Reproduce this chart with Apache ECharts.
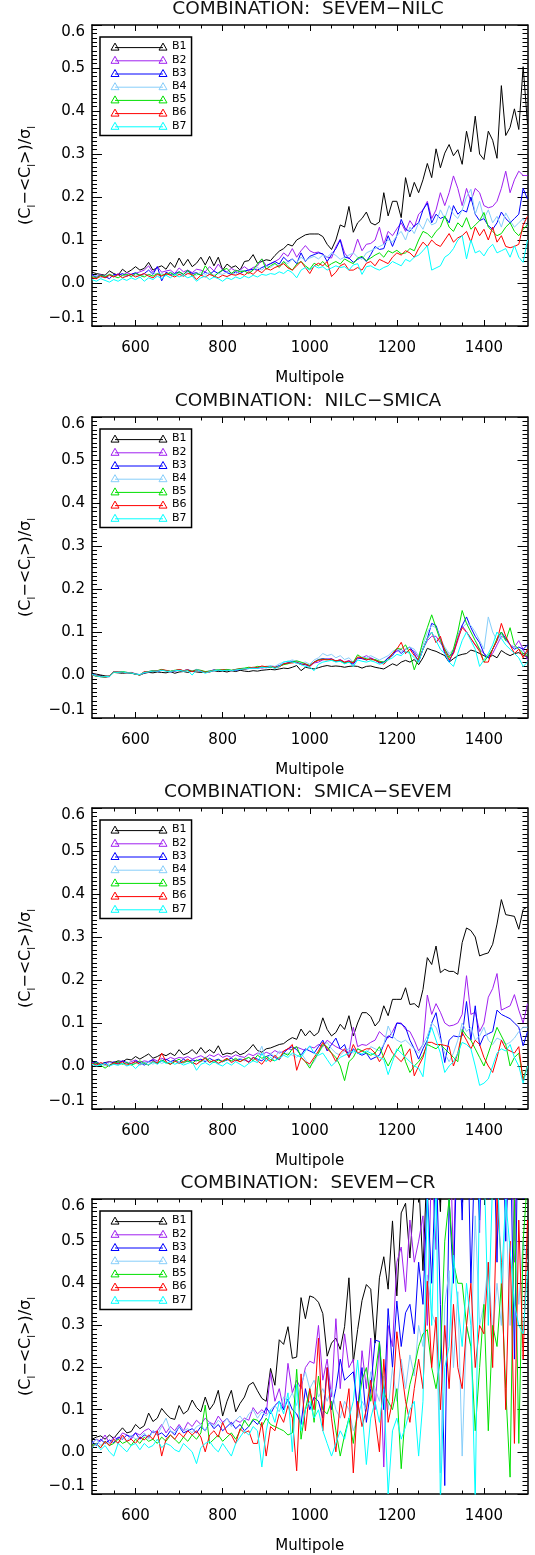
<!DOCTYPE html>
<html>
<head>
<meta charset="utf-8">
<title>Band residuals by component-separation combination</title>
<script src="https://cdn.jsdelivr.net/npm/echarts@6/dist/echarts.min.js"></script>
<style>
  html, body { margin: 0; padding: 0; background: #fff; }
  #chart { width: 535px; height: 1555px; }
</style>
</head>
<body>
<div id="chart"></div>
<script>
// multipole bins (x)
const ells = [
  500, 510, 520, 530, 540, 550, 560, 570, 580, 590,
  600, 610, 620, 630, 640, 650, 660, 670, 680, 690,
  700, 710, 720, 730, 740, 750, 760, 770, 780, 790,
  800, 810, 820, 830, 840, 850, 860, 870, 880, 890,
  900, 910, 920, 930, 940, 950, 960, 970, 980, 990,
  1000, 1010, 1020, 1030, 1040, 1050, 1060, 1070, 1080, 1090,
  1100, 1110, 1120, 1130, 1140, 1150, 1160, 1170, 1180, 1190,
  1200, 1210, 1220, 1230, 1240, 1250, 1260, 1270, 1280, 1290,
  1300, 1310, 1320, 1330, 1340, 1350, 1360, 1370, 1380, 1390,
  1400, 1410, 1420, 1430, 1440, 1450, 1460, 1470, 1480, 1490,
  1500
];
const xMajor = [600, 800, 1000, 1200, 1400];
const xMinor = [550, 650, 700, 750, 850, 900, 950, 1050, 1100, 1150, 1250, 1300, 1350, 1450];
const bandNames = ['B1', 'B2', 'B3', 'B4', 'B5', 'B6', 'B7'];
const bandColors = ['#000000', '#a020f0', '#0000ff', '#87cefa', '#00e000', '#ff0000', '#00ffff'];
const titles = ['COMBINATION:  SEVEM\u2212NILC', 'COMBINATION:  NILC\u2212SMICA', 'COMBINATION:  SMICA\u2212SEVEM', 'COMBINATION:  SEVEM\u2212CR'];

// ---- SEVEM-NILC ----
const sevemNilcB1 = [
  .025, .022, .02, .018, .028, .022, .018, .032, .024, .03,
  .038, .03, .034, .048, .03, .036, .04, .032, .048, .036,
  .058, .04, .055, .038, .046, .06, .042, .062, .04, .06,
  .03, .044, .036, .04, .03, .05, .052, .066, .046, .05,
  .054, .052, .064, .074, .08, .09, .086, .1, .106, .112,
  .114, .114, .114, .108, .09, .078, .1, .135, .13, .178,
  .118, .14, .15, .165, .14, .135, .142, .21, .156, .19,
  .19, .152, .245, .2, .234, .21, .24, .278, .245, .312,
  .268, .302, .322, .296, .31, .276, .353, .305, .388, .3,
  .287, .353, .332, .29, .459, .343, .362, .405, .357, .503,
  .37
];
const sevemNilcB2 = [
  .018, .015, .02, .012, .02, .016, .022, .018, .024, .02,
  .022, .026, .03, .04, .024, .038, .025, .028, .03, .022,
  .035, .026, .03, .024, .032, .03, .026, .038, .028, .044,
  .03, .026, .034, .028, .03, .038, .03, .036, .04, .056,
  .04, .045, .05, .056, .07, .062, .08, .06, .075, .087,
  .075, .07, .072, .066, .06, .058, .084, .102, .07, .056,
  .07, .102, .075, .09, .092, .1, .13, .09, .12, .11,
  .126, .14, .12, .145, .13, .16, .17, .19, .15, .17,
  .21, .18, .21, .249, .22, .18, .22, .19, .22, .21,
  .18, .175, .178, .19, .22, .26, .21, .24, .26, .25,
  .25
];
const sevemNilcB3 = [
  .02, .012, .018, .015, .01, .02, .018, .022, .016, .02,
  .024, .018, .022, .03, .02, .038, .005, .025, .02, .022,
  .026, .02, .028, .022, .024, .018, .025, .02, .028, .022,
  .03, .024, .02, .026, .022, .028, .03, .032, .03, .036,
  .04, .045, .05, .044, .06, .05, .056, .045, .07, .05,
  .062, .066, .07, .068, .05, .066, .08, .1, .06, .058,
  .048, .055, .06, .05, .066, .085, .078, .08, .11, .085,
  .11, .148, .125, .12, .133, .14, .17, .186, .14, .16,
  .15, .155, .14, .18, .16, .17, .165, .2, .16, .145,
  .15, .133, .125, .14, .165, .15, .14, .15, .16, .22,
  .195
];
const sevemNilcB4 = [
  .015, .018, .012, .016, .02, .014, .018, .012, .02, .016,
  .018, .012, .02, .018, .024, .02, .022, .018, .026, .02,
  .022, .016, .024, .02, .018, .026, .02, .024, .018, .022,
  .02, .026, .024, .02, .03, .028, .024, .03, .036, .03,
  .04, .036, .044, .04, .05, .045, .056, .048, .06, .052,
  .058, .062, .056, .065, .06, .07, .064, .055, .06, .065,
  .07, .06, .055, .07, .075, .08, .085, .09, .1, .095,
  .11, .12, .1, .13, .115, .14, .125, .15, .135, .14,
  .17, .15, .18, .16, .15, .17, .2, .218, .16, .19,
  .15, .17, .14, .155, .13, .163, .145, .13, .14, .15,
  .13
];
const sevemNilcB5 = [
  .015, .012, .018, .014, .02, .016, .012, .018, .02, .015,
  .022, .018, .014, .02, .016, .022, .018, .02, .024, .018,
  .026, .02, .03, .016, .022, .018, .04, .026, .014, .024,
  .03, .034, .022, .03, .026, .028, .022, .03, .045, .056,
  .032, .04, .046, .036, .05, .038, .03, .044, .05, .04,
  .032, .046, .04, .05, .038, .045, .05, .044, .056, .05,
  .045, .058, .062, .052, .058, .065, .07, .06, .075, .07,
  .076, .068, .07, .08, .075, .1, .12, .115, .105, .12,
  .13, .156, .13, .12, .14, .13, .152, .125, .135, .145,
  .164, .13, .12, .11, .115, .13, .14, .12, .11, .125,
  .135
];
const sevemNilcB6 = [
  .012, .01, .016, .012, .018, .014, .02, .012, .016, .02,
  .014, .018, .022, .016, .012, .02, .016, .022, .018, .014,
  .02, .016, .022, .02, .008, .018, .014, .02, .016, .012,
  .018, .015, .02, .018, .022, .018, .026, .02, .03, .024,
  .034, .03, .036, .04, .045, .035, .03, .04, .05, .036,
  .022, .04, .046, .04, .05, .015, .025, .04, .045, .03,
  .03, .036, .03, .046, .05, .04, .055, .05, .045, .06,
  .07, .065, .075, .07, .06, .08, .095, .085, .1, .09,
  .085, .1, .115, .095, .105, .11, .12, .095, .13, .11,
  .125, .1, .13, .095, .11, .085, .082, .085, .09, .135,
  .155
];
const sevemNilcB7 = [
  .008, .004, .01, .006, .002, .008, .004, .01, .006, .012,
  .008, .014, .004, .012, .008, .016, .01, .018, .012, .02,
  .014, .018, .012, .016, .004, .012, .016, .008, .014, .01,
  .004, .012, .008, .014, .01, .016, .012, .018, .014, .02,
  .018, .022, .02, .026, .022, .03, .024, .012, .03, .036,
  .03, .04, .035, .038, .03, .035, .04, .036, .038, .03,
  .042, .045, .02, .038, .04, .034, .03, .036, .04, .05,
  .045, .04, .055, .05, .06, .065, .075, .087, .03, .035,
  .04, .06, .067, .08, .1, .11, .056, .1, .07, .075,
  .063, .08, .09, .07, .075, .08, .06, .087, .06, .048,
  .1
];

// ---- NILC-SMICA ----
const nilcSmicaB1 = [
  .004, .002, 0, -.002, -.003, .006, .005, .004, .005, .004,
  .002, 0, .004, .006, .005, .007, .006, .005, .008, .004,
  .007, .008, .006, .009, .007, .006, .008, .007, .01, .008,
  .009, .007, .01, .008, .011, .009, .008, .01, .009, .011,
  .012, .013, .012, .014, .016, .015, .018, .022, .01, .018,
  .016, .014, .017, .02, .022, .02, .021, .02, .018, .02,
  .021, .02, .016, .02, .021, .018, .016, .014, .02, .026,
  .022, .03, .034, .03, .036, .024, .04, .062, .058, .055,
  .05, .045, .03, .038, .045, .048, .05, .058, .055, .05,
  .045, .04, .046, .04, .057, .05, .045, .05, .052, .046,
  .042
];
const nilcSmicaB2 = [
  0, -.002, -.004, -.005, -.004, .008, .006, .007, .005, .006,
  .003, 0, .006, .008, .01, .008, .012, .01, .008, .01,
  .012, .01, .012, .008, .013, .01, .006, .008, .01, .011,
  .01, .012, .01, .012, .013, .014, .016, .015, .018, .016,
  .018, .02, .016, .02, .025, .028, .03, .028, .025, .024,
  .02, .028, .03, .035, .038, .035, .032, .036, .03, .034,
  .028, .038, .04, .045, .04, .035, .03, .03, .04, .05,
  .055, .06, .05, .06, .055, .04, .06, .08, .09, .09,
  .075, .06, .045, .05, .08, .115, .1, .085, .07, .06,
  .05, .04, .05, .07, .09, .085, .07, .065, .08, .06,
  .035
];
const nilcSmicaB3 = [
  .002, -.001, -.003, -.004, -.003, .007, .007, .006, .006, .005,
  .002, .001, .005, .007, .009, .008, .011, .01, .007, .009,
  .011, .01, .012, .009, .011, .009, .007, .009, .012, .01,
  .011, .012, .01, .011, .013, .014, .015, .017, .016, .018,
  .017, .019, .018, .022, .026, .028, .032, .03, .026, .024,
  .022, .03, .036, .038, .036, .038, .032, .034, .028, .03,
  .025, .04, .038, .035, .038, .035, .028, .03, .04, .045,
  .06, .05, .06, .065, .05, .03, .06, .085, .12, .115,
  .085, .05, .03, .055, .09, .115, .135, .11, .09, .075,
  .05, .04, .06, .08, .1, .085, .07, .06, .065, .06,
  .07
];
const nilcSmicaB4 = [
  .001, -.002, -.003, -.005, -.004, .006, .008, .007, .006, .005,
  .003, 0, .006, .008, .01, .009, .012, .01, .008, .01,
  .011, .009, .012, .01, .012, .01, .007, .009, .01, .012,
  .011, .013, .011, .012, .014, .015, .017, .016, .019, .018,
  .02, .022, .02, .026, .03, .032, .035, .032, .028, .03,
  .025, .035, .04, .05, .045, .048, .04, .045, .036, .04,
  .03, .04, .042, .04, .045, .04, .035, .04, .045, .055,
  .06, .055, .06, .065, .06, .045, .07, .1, .115, .11,
  .085, .065, .05, .06, .09, .11, .12, .115, .1, .08,
  .06, .135, .1, .08, .095, .08, .07, .065, .06, .055,
  .05
];
const nilcSmicaB5 = [
  0, -.003, -.004, -.005, -.003, .007, .006, .008, .006, .005,
  .002, 0, .007, .008, .01, .01, .013, .01, .009, .011,
  .012, .01, .011, .009, .012, .011, .008, .009, .011, .012,
  .012, .013, .011, .013, .015, .016, .018, .017, .02, .019,
  .02, .018, .017, .02, .024, .026, .03, .033, .03, .026,
  .022, .03, .035, .037, .036, .035, .033, .032, .028, .03,
  .03, .047, .04, .038, .035, .036, .032, .03, .035, .05,
  .062, .06, .07, .05, .012, .04, .08, .11, .14, .11,
  .08, .06, .04, .06, .1, .15, .12, .1, .08, .06,
  .03, .045, .06, .085, .1, .08, .11, .07, .06, .05,
  .045
];
const nilcSmicaB6 = [
  0, -.002, -.003, -.005, -.002, .008, .007, .006, .005, .006,
  .002, 0, .008, .007, .009, .01, .012, .011, .008, .01,
  .013, .01, .012, .008, .011, .01, .006, .008, .011, .01,
  .012, .011, .01, .013, .014, .013, .016, .018, .017, .021,
  .019, .02, .018, .019, .026, .028, .028, .03, .024, .026,
  .02, .03, .034, .036, .035, .037, .033, .035, .03, .032,
  .028, .042, .04, .035, .038, .034, .03, .025, .035, .05,
  .06, .076, .05, .06, .045, .035, .06, .085, .1, .075,
  .09, .055, .035, .05, .085, .11, .1, .085, .07, .055,
  .03, .03, .06, .08, .12, .09, .07, .05, .06, .04,
  .06
];
const nilcSmicaB7 = [
  .001, -.002, -.004, -.004, -.003, .007, .006, .007, .005, .005,
  .002, .001, .006, .007, .009, .009, .011, .009, .008, .01,
  .011, .009, .01, 0, .012, .009, .004, .008, .01, .011,
  .01, .011, .01, .012, .013, .014, .015, .016, .015, .018,
  .017, .02, .015, .02, .03, .032, .03, .028, .024, .02,
  .018, .01, .025, .03, .032, .034, .03, .032, .026, .03,
  .02, .035, .032, .03, .033, .03, .025, .028, .035, .04,
  .048, .045, .055, .05, .04, .03, .06, .085, .1, .08,
  .06, .05, .03, .02, .05, .08, .1, .08, .06, .02,
  .035, .05, .07, .1, .085, .07, .06, .05, .04, .02,
  .03
];

// ---- SMICA-SEVEM ----
const smicaSevemB1 = [
  .012, .006, .004, .008, .01, .008, .012, .01, .016, .014,
  .022, .016, .022, .028, .018, .022, .028, .024, .03, .024,
  .038, .026, .03, .038, .028, .043, .03, .038, .03, .047,
  .026, .03, .028, .034, .026, .03, .038, .05, .036, .032,
  .04, .042, .046, .05, .052, .06, .066, .062, .086, .07,
  .082, .07, .078, .112, .085, .07, .078, .097, .085, .117,
  .07, .1, .124, .124, .115, .093, .105, .14, .117, .155,
  .155, .155, .182, .143, .145, .136, .178, .252, .236, .279,
  .217, .225, .22, .22, .213, .287, .321, .315, .3, .256,
  .26, .263, .283, .33, .387, .352, .35, .348, .318, .364,
  .37
];
const smicaSevemB2 = [
  .008, .004, .002, .006, .01, .004, .008, .012, .006, .01,
  .014, .008, .012, .01, .016, .012, .018, .014, .02, .016,
  .02, .018, .022, .016, .02, .024, .018, .026, .022, .028,
  .02, .024, .02, .026, .022, .02, .028, .024, .03, .026,
  .032, .028, .036, .03, .034, .04, .038, .044, .04, .036,
  .045, .042, .05, .045, .06, .052, .045, .04, .035, .03,
  .09, .045, .05, .048, .055, .06, .08, .07, .065, .08,
  .1, .1, .085, .08, .06, .035, .05, .165, .12, .145,
  .125, .1, .093, .095, .1, .12, .21, .12, .125, .08,
  .1, .16, .18, .215, .13, .135, .14, .166, .13, .1,
  .145
];
const smicaSevemB3 = [
  .006, .01, .004, .008, 0, .01, .006, .012, .008, .004,
  .012, .008, .002, .01, .014, .006, .012, .016, .01, .014,
  .008, .016, .01, .014, .012, .016, .01, .018, .012, .016,
  .01, .014, .018, .012, .016, .014, .01, .02, .016, .012,
  .022, .026, .02, .015, .03, .04, .045, .038, .025, .04,
  .035, .03, .045, .06, .035, .05, .065, .04, .05, .02,
  .04, .03, .025, .03, .015, .02, .025, .05, .07, .065,
  .1, .098, .09, .06, .04, .016, .04, .06, .1, .124,
  .07, .008, .06, .07, .068, .07, .15, .06, .14, .047,
  .07, .075, .08, .13, .12, .115, .11, .1, .09, .047,
  .08
];
const smicaSevemB4 = [
  .004, .002, .006, 0, .008, .004, .002, .006, .01, .004,
  .008, .002, .006, .01, .004, .012, .006, .01, .004, .012,
  .008, .006, .012, .008, .004, .01, .014, .008, .012, .006,
  .01, .016, .01, .014, .018, .012, .02, .014, .024, .046,
  .01, .03, .02, .035, .028, .03, .025, .02, .03, .015,
  0, .01, .03, .045, .055, .04, .03, .025, .035, .04,
  .03, .04, .035, .03, .045, .04, .035, .05, .093, .07,
  .06, .055, .06, .05, .04, .03, .05, .07, .1, .09,
  .06, .03, .01, .03, .06, .1, .08, .09, .06, .07,
  .09, .06, .05, .065, .06, .05, .055, .065, .08, .09,
  .09
];
const smicaSevemB5 = [
  .004, .008, .002, -.005, .002, .006, .01, .004, .008, .002,
  .006, .012, .006, .002, .01, .006, .014, .008, .004, .01,
  .016, .008, .012, .006, .014, .01, .02, .012, .008, .014,
  .01, .016, .012, .018, .01, .016, .02, .012, .025, .018,
  .022, .015, .012, .02, .03, .025, .04, .045, .02, .01,
  -.005, .015, .03, .05, .045, .03, .02, 0, -.034, .01,
  .02, .04, .035, .03, .025, .03, .045, .02, 0, .02,
  .035, .05, .01, -.015, 0, .01, .025, .05, .045, .04,
  .05, .04, .03, .02, .01, .085, .07, .06, .04, .02,
  0, .03, .06, .09, .07, .05, 0, .02, .03, -.03,
  0
];
const smicaSevemB6 = [
  .006, .002, .008, .004, 0, .008, .004, .01, .002, .006,
  .01, .004, .008, .002, .012, .006, .03, .01, .004, .012,
  .006, .01, .016, .008, .004, .012, .018, .008, .014, .006,
  .012, .018, .008, .014, .01, .016, .008, .02, .012, .004,
  .018, .01, .025, .015, .035, .04, .05, -.01, .02, .01,
  .005, .02, .035, .055, .04, .03, .01, .03, .04, .02,
  .05, .03, .035, .04, .04, .03, .01, .025, .05, .03,
  .02, .01, .025, .04, -.023, 0, .02, .055, .055, .05,
  .05, .048, .045, 0, .03, .078, .06, .04, .06, .05,
  .02, 0, -.015, .02, .06, .04, .035, .03, .045, -.035,
  0
];
const smicaSevemB7 = [
  .004, 0, .002, .006, 0, .004, .002, .006, 0, .004,
  -.006, .004, .008, .002, .01, .004, .012, .006, .01, .004,
  .008, .002, .006, .01, -.01, .004, .008, .002, .01, .004,
  0, .008, .002, .01, .004, -.002, .006, .012, .008, .03,
  .01, .02, .012, .018, .025, .02, .03, .025, .02, .035,
  .047, .03, .025, .03, .015, 0, .01, .02, .025, .03,
  .035, .03, .028, .035, .03, .025, .02, .015, -.02, .01,
  .04, .03, .02, .01, 0, -.005, -.025, .06, .09, .06,
  .03, -.015, 0, .01, .03, .055, .05, .04, 0, -.045,
  -.04, -.03, 0, .03, .04, .035, .05, .02, 0, -.04,
  0
];

// ---- SEVEM-CR ----
const sevemCrB1 = [
  .03, .035, .038, .03, .04, .032, .045, .057, .045, .048,
  .065, .055, .062, .092, .072, .08, .103, .09, .08, .077,
  .11, .09, .098, .123, .105, .095, .13, .1, .115, .146,
  .085, .12, .146, .095, .115, .13, .158, .165, .145, .127,
  .12, .198, .158, .266, .255, .297, .222, .225, .366, .316,
  .37, .366, .355, .328, .227, .258, .27, .243, .297, .413,
  .212, .29, .359, .397, .386, .258, .413, .463, .386, .548,
  .37, .567, .59, .46, .62, .65, .43, .7, .8, .75,
  .57, .9, .8, 1.0, .85, .95, 1.1, .9, 1.0, 1.2,
  .95, 1.1, .9, 1.0, 1.2, 1.0, 1.1, .9, 1.05, 1.2,
  1.0
];
const sevemCrB2 = [
  .02, .03, .025, .04, .02, .035, .03, .045, .04, .03,
  .045, .04, .05, .055, .045, .05, .065, .045, .06, .05,
  .065, .05, .07, .06, .075, .065, .08, .07, .065, .085,
  .07, .08, .065, .075, .07, .08, .075, .105, .09, .1,
  .09, .188, .12, .15, .1, .21, .14, .17, .15, .2,
  .215, .21, .3, .17, .22, .13, .316, .15, .28, .2,
  .22, .08, .24, .15, .27, .1, .26, -.036, .3, .25,
  .45, .486, .38, .55, .45, .5, .56, .3, .7, .48,
  .9, .7, .85, .44, .9, .7, 1.0, .6, .9, .52,
  1.0, .7, .95, .8, 1.1, .5, .9, .45, 1.0, .8,
  1.1
];
const sevemCrB3 = [
  .025, .015, .03, .02, .028, .022, .035, .03, .04, .035,
  .045, .03, .04, .035, .05, .04, .045, .035, .05, .04,
  .06, .045, .05, .055, .045, .06, .05, .07, .055, .065,
  .05, .06, .07, .055, .065, .05, .06, .075, .065, .08,
  .105, .09, .11, .12, .1, .125, .1, .09, .065, .15,
  .1, .13, .12, .08, .2, .1, .15, .22, .17, .18,
  .19, .1, .2, .07, .15, .265, .262, .1, .34, .2,
  .358, .25, .33, .35, .28, .45, .35, .62, .4, .7,
  .35, -.08, .6, .4, .8, .55, .9, .4, .75, .55,
  .9, .6, .85, .45, .95, .5, .8, .22, .9, .6,
  .8
];
const sevemCrB4 = [
  .02, .03, .015, .025, .02, .03, .02, .035, .025, .04,
  .03, .035, .045, .03, .05, .04, .06, .08, .05, .045,
  .06, .05, .055, .045, .06, .065, .05, .07, .06, .075,
  .065, .08, .06, .075, .085, .07, .09, .1, .08, .095,
  .085, .1, .11, .095, .13, .12, .14, .11, .16, .19,
  .15, .17, .13, .15, .12, .15, .1, .08, .12, .1,
  .05, .08, .12, .1, .19, .15, .12, .18, .1, .2,
  .12, .22, .15, .23, .18, .3, .25, .42, .33, .3,
  -.05, .35, .43, .2, .38, -.01, .3, .25, .56, .3,
  .35, .45, .28, .4, .3, .6, .3, .5, .35, .5,
  .45
];
const sevemCrB5 = [
  .015, .02, .01, .025, .015, .02, .03, .02, .025, .015,
  .03, .02, .035, .025, .03, .02, .035, .025, .04, .03,
  .02, .035, .025, .04, .03, .045, .111, .02, .03, .04,
  .025, .035, .045, .03, .05, .075, .06, .078, .075, .06,
  .08, .065, .06, .055, .05, .04, .045, .196, .03, .1,
  .15, .07, .18, .1, .09, .12, .05, -.01, .04, .08,
  .02, .1, .17, .2, .12, .18, .26, .14, .12, .1,
  .15, -.04, .1, .16, .2, .25, .28, .29, .2, .15,
  .22, .5, .6, .45, .4, .4, .3, .25, .05, .2,
  .35, .05, .3, .25, .4, .15, -.06, .6, .02, .5,
  .65
];
const sevemCrB6 = [
  .012, .02, .01, .025, .015, .03, .02, .04, .025, .03,
  .02, .035, .028, .04, .03, .05, -.01, .03, .04, .03,
  .045, .035, .05, .04, .05, .035, 0, .04, .05, .035,
  .07, .045, .04, .02, .055, .045, .05, .02, .02, .07,
  -.01, .06, .05, .09, .07, .11, .08, -.045, .185, .05,
  .15, .1, .27, .05, .2, .08, 0, .12, .08, .15,
  -.05, .12, .06, .1, .17, .08, 0, .22, .07, .12,
  .285, .2, .12, .07, .15, .22, .15, .405, .2, .32,
  .1, .3, .15, .35, .2, .15, .3, .4, .2, .3,
  .28, .45, .2, .6, .45, .1, .5, .02, .55, .22,
  .55
];
const sevemCrB7 = [
  .01, .02, .005, .015, 0, -.01, .02, .01, 0, .015,
  .02, .005, .02, .01, .015, .03, .01, .02, .015, .005,
  0, .02, .01, 0, -.028, .01, .02, .025, .01, 0,
  .02, .005, -.01, .02, .035, .05, .04, .06, .05, -.036,
  .05, .1, .07, .12, .09, .14, 0, .16, .05, .1,
  .12, .08, .1, .05, .02, -.01, .02, .05, .03, .08,
  .12, .218, .1, -.03, .08, .12, .07, .15, -.1, .05,
  .08, .03, .06, .1, .12, -.01, .12, .6, .3, .65,
  -.12, .2, .25, .467, .35, .25, .4, .3, -.12, .65,
  .7, .3, .65, .7, .4, .6, .48, .35, .3, .28,
  .43
];

const panels = [
  [sevemNilcB1, sevemNilcB2, sevemNilcB3, sevemNilcB4, sevemNilcB5, sevemNilcB6, sevemNilcB7],
  [nilcSmicaB1, nilcSmicaB2, nilcSmicaB3, nilcSmicaB4, nilcSmicaB5, nilcSmicaB6, nilcSmicaB7],
  [smicaSevemB1, smicaSevemB2, smicaSevemB3, smicaSevemB4, smicaSevemB5, smicaSevemB6, smicaSevemB7],
  [sevemCrB1, sevemCrB2, sevemCrB3, sevemCrB4, sevemCrB5, sevemCrB6, sevemCrB7]
];

const FONT = 'DejaVu Sans';
const gridTops = [25, 417, 808, 1199];
const legendIcon = 'path://M0,7L4,0L8,7ZM4,4.5L52,4.5M48,7L52,0L56,7Z';
const black = { color: '#000', width: 1 };

let option = {
  animation: false,
  backgroundColor: '#fff',
  title: [], legend: [], grid: [], xAxis: [], yAxis: [], series: []
};

panels.forEach((bands, g) => {
  let top = gridTops[g];
  option.grid.push({ left: 92, top: top, width: 435.5, height: 301 });

  option.title.push({
    text: titles[g], left: 308, top: top - 25, textAlign: 'center', padding: 0,
    textStyle: { fontFamily: FONT, fontSize: 18.5, fontWeight: 'normal', color: '#111' }
  });

  option.legend.push({
    orient: 'vertical', left: 100, top: top + 12,
    padding: [3, 5, 3, 8.5], itemGap: 0, itemWidth: 56, itemHeight: 7,
    borderColor: '#000', borderWidth: 1.5, backgroundColor: '#fff',
    icon: legendIcon, selectedMode: false,
    textStyle: { fontFamily: FONT, fontSize: 11, color: '#000', lineHeight: 13.2 },
    data: bandNames.map((n, i) => ({
      name: n, itemStyle: { color: 'none', borderColor: bandColors[i], borderWidth: 1 }
    }))
  });

  // x axes: bottom major/minor, top major/minor
  let xBase = { gridIndex: g, type: 'value', min: 500, max: 1500, splitLine: { show: false } };
  ['bottom', 'top'].forEach(pos => {
    option.xAxis.push(Object.assign({}, xBase, {
      position: pos,
      axisLine: { show: true, onZero: false, lineStyle: { color: '#000', width: 1.5 } },
      axisTick: { show: true, inside: true, length: 6, customValues: xMajor, lineStyle: black },
      axisLabel: pos === 'bottom'
        ? { show: true, customValues: xMajor, margin: 15, fontFamily: FONT, fontSize: 15, color: '#000',
            formatter: v => String(v) }
        : { show: false },
      name: pos === 'bottom' ? 'Multipole' : '',
      nameLocation: 'middle', nameGap: 45,
      nameTextStyle: { fontFamily: FONT, fontSize: 15, color: '#000' }
    }));
    option.xAxis.push(Object.assign({}, xBase, {
      position: pos,
      axisLine: { show: false, onZero: false },
      axisTick: { show: true, inside: true, length: 3.5, customValues: xMinor, lineStyle: black },
      axisLabel: { show: false }
    }));
  });

  // y axes: left with labels, right mirror
  ['left', 'right'].forEach(pos => {
    option.yAxis.push({
      gridIndex: g, type: 'value', position: pos, min: -0.1, max: 0.6, interval: 0.1,
      axisLine: { show: true, onZero: false, lineStyle: { color: '#000', width: 1.5 } },
      axisTick: { show: true, inside: true, length: 10, lineStyle: black },
      minorTick: { show: true, splitNumber: 10, length: 5, lineStyle: black },
      splitLine: { show: false }, minorSplitLine: { show: false },
      axisLabel: pos === 'left' ? {
        show: true, margin: 7, fontFamily: FONT, fontSize: 15, color: '#000',
        verticalAlignMinLabel: 'bottom', verticalAlignMaxLabel: 'top',
        formatter: v => v.toFixed(1).replace('-', '\u2212')
      } : { show: false },
      name: pos === 'left' ? '(C{s|l}\u2212<C{s|l}>)/\u03c3{s|l}' : '',
      nameLocation: 'middle', nameGap: 55, nameRotate: 90,
      nameTextStyle: {
        fontFamily: FONT, fontSize: 16, color: '#000', lineHeight: 22,
        rich: { s: { fontFamily: FONT, fontSize: 10, lineHeight: 10, verticalAlign: 'bottom', color: '#000' } }
      }
    });
  });

  bands.forEach((vals, i) => {
    option.series.push({
      type: 'line', name: bandNames[i],
      xAxisIndex: g * 4, yAxisIndex: g * 2,
      data: ells.map((m, k) => [m, vals[k]]),
      symbol: 'none', silent: true,
      lineStyle: { color: bandColors[i], width: 1 },
      itemStyle: { color: bandColors[i] }
    });
  });
});

let chart = echarts.init(document.getElementById('chart'), null, { renderer: 'canvas' });
chart.setOption(option);
</script>
</body>
</html>
